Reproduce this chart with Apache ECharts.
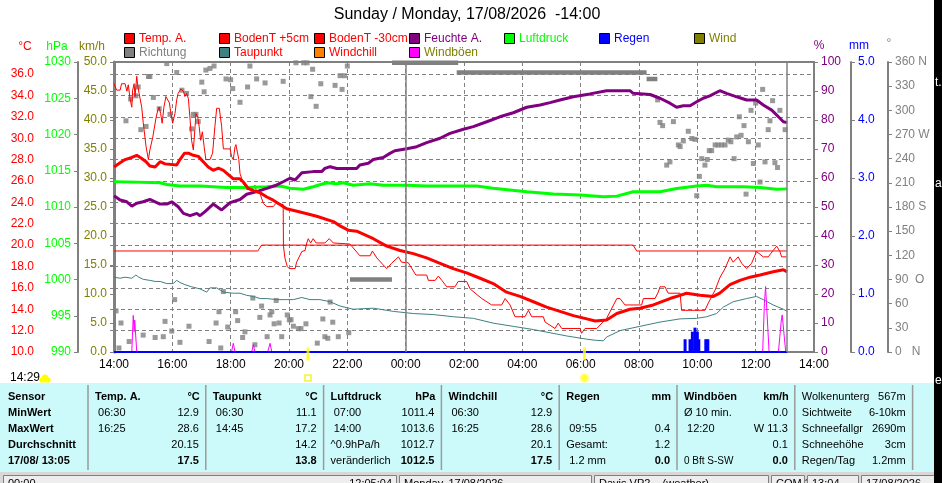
<!DOCTYPE html>
<html>
<head>
<meta charset="utf-8">
<title>Wetter 24h</title>
<script src="https://cdn.jsdelivr.net/npm/echarts@6/dist/echarts.min.js"></script>
<style>
  html, body { margin: 0; padding: 0; background: #fff; }
  #main { width: 942px; height: 483px; }
</style>
</head>
<body>
<div id="main"></div>
<script>
// Zeit in Stunden ab 14:00 (10 = 00:00, 24 = 14:00 am Folgetag)
const titleText = 'Sunday / Monday, 17/08/2026  -14:00';

// Temp. A. (°C)
const tempA = [[0.00,27.3],[0.21,27.7],[0.38,28.0],[0.61,28.2],[0.78,28.4],[0.95,28.1],[1.10,27.8],[1.23,27.4],[1.41,27.3],[1.58,27.8],[1.75,27.6],[2.15,27.5],[2.26,28.0],[2.42,28.6],[2.55,28.6],[2.72,28.4],[2.89,28.3],[3.06,27.8],[3.23,27.3],[3.40,27.0],[3.58,27.2],[3.75,27.0],[3.92,26.6],[4.09,26.2],[4.32,26.2],[4.43,25.9],[4.60,25.3],[4.78,25.1],[5.01,24.9],[5.24,24.5],[5.46,24.2],[5.69,23.8],[5.92,23.4],[6.38,23.1],[6.95,22.7],[7.52,22.2],[7.75,21.8],[8.03,21.4],[8.32,21.3],[8.89,20.6],[9.35,19.9],[9.81,19.5],[10.26,19.2],[10.72,18.8],[11.18,18.3],[11.63,17.8],[12.09,17.4],[12.55,16.9],[13.00,16.4],[13.46,15.6],[13.92,15.2],[14.38,14.7],[14.83,14.2],[15.29,13.8],[15.75,13.4],[16.21,13.1],[16.50,12.9],[16.89,13.0],[17.24,13.6],[17.69,14.0],[18.03,14.1],[18.49,14.4],[19.06,15.0],[19.41,15.3],[19.63,15.5],[20.09,15.3],[20.55,15.2],[20.77,15.5],[21.12,16.3],[21.46,16.7],[21.81,17.0],[22.15,17.2],[22.60,17.5],[22.95,17.7],[23.08,17.5]];

// BodenT +5cm (°C)
const bodenPlus5 = [[0.00,35.1],[0.09,34.5],[0.21,34.5],[0.26,35.1],[0.38,35.1],[0.44,34.4],[0.49,35.0],[0.55,33.7],[0.61,32.9],[0.64,34.5],[0.69,35.1],[0.72,33.9],[0.78,35.8],[0.81,35.0],[0.86,34.2],[0.95,32.9],[1.00,31.5],[1.10,29.2],[1.18,28.0],[1.23,28.9],[1.33,30.1],[1.44,31.9],[1.50,32.6],[1.55,32.9],[1.60,32.3],[1.65,31.4],[1.71,32.9],[1.78,33.9],[1.84,34.0],[1.90,33.3],[1.95,32.3],[2.01,31.4],[2.09,32.3],[2.15,33.6],[2.20,34.2],[2.29,34.6],[2.38,34.4],[2.43,33.9],[2.49,34.2],[2.55,33.7],[2.61,31.7],[2.66,29.8],[2.72,28.9],[2.78,31.1],[2.81,32.3],[2.87,32.0],[2.92,31.1],[2.97,29.8],[3.03,30.6],[3.09,29.2],[3.15,28.0],[3.29,28.0],[3.38,28.6],[3.46,31.1],[3.52,32.8],[3.61,32.8],[3.69,31.1],[3.75,29.0],[3.98,29.0],[4.03,28.3],[4.09,28.0],[4.15,29.2],[4.18,29.4],[4.23,28.7],[4.28,28.0],[4.32,26.7],[4.43,25.8],[4.55,25.2],[4.72,25.2],[4.83,25.6],[4.89,25.0],[5.01,24.8],[5.12,23.9],[5.24,23.6],[5.46,23.6],[5.55,23.9],[5.80,23.8],[5.81,19.9],[5.86,18.8],[5.94,18.0],[6.01,17.8],[6.21,17.8],[6.26,18.4],[6.44,19.4],[6.55,19.5],[6.61,20.2],[6.66,20.6],[6.74,20.2],[6.83,20.6],[6.93,20.2],[7.23,20.2],[7.38,20.6],[7.52,20.2],[8.09,20.1],[8.43,19.0],[8.78,19.0],[8.86,19.45],[9.01,18.8],[9.35,17.8],[9.52,18.3],[9.75,18.9],[9.86,18.4],[10.09,18.35],[10.35,17.2],[10.72,17.2],[10.78,16.7],[11.01,16.7],[11.12,17.1],[11.24,16.7],[11.41,16.1],[11.69,16.1],[11.80,16.6],[12.09,16.6],[12.21,15.9],[12.61,15.0],[12.95,14.4],[13.29,14.4],[13.41,15.0],[13.58,14.4],[13.75,13.3],[14.09,13.3],[14.21,13.9],[14.32,13.3],[14.72,13.3],[14.78,12.8],[15.12,12.2],[15.23,12.7],[15.35,12.2],[15.98,12.2],[16.03,11.75],[16.15,12.2],[16.55,12.2],[16.89,13.15],[17.24,15.0],[17.35,15.0],[17.52,14.4],[18.09,14.4],[18.15,15.0],[18.55,15.0],[18.66,15.6],[18.72,16.1],[18.89,16.1],[19.00,15.5],[19.41,15.5],[19.46,13.9],[20.26,13.9],[20.38,14.6],[20.61,15.8],[20.78,17.0],[20.95,17.8],[21.12,18.9],[21.23,18.4],[21.40,18.9],[21.52,18.3],[21.69,17.8],[21.86,18.3],[22.03,19.4],[22.26,18.9],[22.43,18.9],[22.60,19.5],[22.72,19.9],[22.83,19.4],[22.89,18.9],[23.06,18.9]];

// BodenT -30cm (°C)
const bodenMinus30 = [[0,19.45],[4.93,19.45],[5.06,20.0],[17.80,20.0],[17.92,19.45],[23.08,19.45]];

// Taupunkt (°C)
const taupunkt = [[0.00,17.0],[0.21,16.9],[0.38,17.0],[0.61,16.9],[0.75,17.2],[0.85,17.0],[1.00,16.8],[1.23,16.7],[1.41,16.6],[1.58,16.6],[1.81,16.4],[2.03,16.4],[2.15,16.7],[2.26,16.5],[2.43,16.3],[2.66,16.1],[2.95,15.9],[3.18,15.6],[3.29,16.0],[3.52,16.0],[3.75,15.6],[4.09,15.5],[4.32,15.5],[4.55,15.3],[4.78,15.2],[5.01,15.0],[5.24,15.0],[5.58,14.9],[5.92,14.9],[6.15,14.9],[6.44,15.1],[6.72,14.9],[7.06,14.9],[7.41,14.7],[7.75,14.3],[8.20,14.0],[8.89,14.1],[9.58,13.8],[10.26,13.6],[10.95,13.5],[11.63,13.3],[12.32,13.15],[13.00,12.7],[13.69,12.4],[14.38,12.1],[14.95,11.8],[15.52,11.5],[16.21,11.2],[16.50,11.1],[16.78,11.05],[16.89,11.4],[17.35,12.0],[18.03,12.4],[18.72,12.8],[19.41,13.1],[19.98,13.15],[20.32,13.3],[20.66,13.6],[20.89,14.2],[21.23,14.7],[21.69,15.0],[22.03,15.2],[22.26,14.9],[22.60,14.4],[22.95,14.0],[23.08,13.8]];

// Feuchte A. (%)
const feuchte = [[0.00,53.9],[0.21,52.4],[0.44,51.8],[0.61,50.3],[0.78,51.3],[1.00,51.8],[1.23,52.6],[1.41,51.8],[1.58,51.0],[1.81,51.0],[1.98,51.8],[2.20,50.1],[2.38,47.8],[2.61,47.0],[2.84,47.8],[2.95,47.0],[3.12,48.4],[3.40,51.0],[3.69,49.0],[3.98,51.5],[4.32,52.6],[4.55,54.4],[4.89,55.3],[5.24,56.4],[5.58,57.6],[5.80,58.7],[6.03,59.9],[6.21,59.3],[6.44,61.8],[6.83,62.2],[7.12,62.2],[7.23,63.3],[7.41,63.9],[7.64,63.3],[8.32,63.3],[8.43,64.5],[8.72,65.1],[8.89,66.4],[9.23,67.1],[9.46,68.5],[9.63,69.4],[10.04,70.1],[10.38,70.8],[10.72,72.2],[11.18,73.7],[11.52,75.4],[11.98,76.8],[12.32,77.7],[12.78,79.4],[13.23,81.1],[13.69,82.5],[14.15,84.4],[14.61,85.2],[14.95,86.0],[15.29,86.9],[15.75,88.0],[16.32,89.0],[16.89,90.1],[17.69,90.1],[17.80,89.2],[18.38,88.8],[18.72,87.5],[19.06,85.8],[19.29,84.4],[19.52,84.9],[19.75,84.9],[19.98,86.3],[20.20,87.5],[20.43,88.3],[20.77,90.1],[21.00,89.2],[21.35,88.0],[21.69,86.9],[22.03,86.9],[22.26,85.2],[22.55,83.4],[22.78,81.1],[22.95,79.4],[23.08,79.1]];

// Luftdruck (hPa)
const luftdruck = [[0.00,1013.5],[1.58,1013.35],[1.81,1013.1],[2.26,1012.9],[2.95,1012.9],[3.86,1012.7],[4.55,1012.7],[5.24,1012.8],[5.69,1012.9],[6.03,1012.6],[6.49,1012.45],[6.83,1012.8],[7.29,1013.35],[7.64,1013.2],[7.86,1013.35],[8.20,1013.0],[8.78,1013.2],[9.23,1013.0],[10.04,1013.0],[10.72,1012.9],[12.43,1012.9],[13.00,1012.6],[14.15,1012.1],[15.06,1011.8],[15.98,1011.65],[16.78,1011.4],[17.24,1011.5],[17.80,1012.1],[18.72,1012.1],[19.29,1012.55],[19.98,1012.9],[20.32,1013.0],[20.66,1012.8],[21.58,1012.8],[22.15,1012.7],[22.72,1012.45],[23.08,1012.5]];

// Richtung (°), Einzelwerte
const richtung = [[0.07,51],[0.17,5],[0.24,36],[0.41,287],[0.52,13],[0.57,314],[0.75,318],[0.83,329],[0.92,276],[1.00,21],[1.10,280],[1.18,342],[1.23,342],[1.35,316],[1.41,18],[1.55,302],[1.69,19],[1.75,38],[1.81,358],[1.92,295],[1.98,26],[2.08,65],[2.15,347],[2.26,12],[2.33,325],[2.49,321],[2.57,32],[2.66,277],[2.72,295],[2.81,295],[2.89,286],[3.01,335],[3.09,323],[3.15,350],[3.26,13],[3.29,352],[3.43,355],[3.50,36],[3.60,50],[3.66,5],[3.75,75],[3.84,339],[3.90,31],[4.00,338],[4.07,327],[4.17,50],[4.24,39],[4.32,310],[4.41,18],[4.49,25],[4.58,329],[4.66,355],[4.76,67],[4.83,9],[4.89,339],[5.00,43],[5.06,57],[5.18,334],[5.25,19],[5.35,46],[5.41,50],[5.49,35],[5.56,64],[5.66,36],[5.75,19],[5.80,336],[5.94,46],[6.01,40],[6.07,40],[6.15,32],[6.24,359],[6.32,29],[6.41,29],[6.50,359],[6.58,35],[6.62,359],[6.75,317],[6.81,351],[6.93,305],[6.97,11],[7.09,333],[7.16,41],[7.23,19],[7.33,17],[7.41,62],[7.50,37],[7.58,331],[7.69,19],[7.75,343],[7.82,326],[7.90,343],[8.00,355],[8.05,24],[18.64,313],[18.72,285],[18.81,281],[18.95,232],[19.06,236],[19.18,286],[19.35,257],[19.41,255],[19.52,262],[19.69,274],[19.81,265],[19.92,264],[19.98,194],[20.07,218],[20.15,240],[20.26,232],[20.34,239],[20.41,250],[20.49,250],[20.61,257],[20.71,257],[20.83,257],[20.95,257],[21.06,263],[21.15,261],[21.26,240],[21.35,267],[21.44,292],[21.50,269],[21.60,281],[21.67,196],[21.75,261],[21.84,300],[21.92,234],[22.00,309],[22.09,257],[22.15,211],[22.24,326],[22.32,236],[22.43,276],[22.49,287],[22.58,312],[22.66,235],[22.75,229],[22.83,300],[23.01,276]];
// Richtung (°), gleichbleibende Abschnitte bei Windstille: von, bis, Grad
const richtungRuns = [[8.09,9.53,90],[9.53,11.80,359],[11.75,18.26,347],[18.26,18.63,339]];

// Windböen / Wind (km/h)
const windboeen = [[0,0],[0.61,0],[0.66,6.3],[0.69,3.5],[0.71,5.5],[0.78,0],[4.03,0],[4.09,1.5],[4.15,0],[4.72,0],[4.78,1.3],[4.83,0],[5.27,0],[5.35,1.5],[5.41,0],[22.24,0],[22.30,8.4],[22.34,11.3],[22.46,0],[22.78,0],[22.88,5.5],[22.91,6.4],[23.03,0],[23.08,0]];
const windMittel = [[0,0],[23.08,0]];

// Regen (mm)
const regenBars = [[19.58,0.22],[19.75,0.22],[19.83,0.35],[19.92,0.42],[20.00,0.35],[20.05,0.22],[20.29,0.22],[20.36,0.22]];
const regenLine = [[0,0],[23.08,0]];

// Sonnenuntergang 20:39, Sonnenaufgang 06:08, Jetzt 13:05
const sunEvents = [6.65, 16.13];
const nowHour = 23.08;
const midnight = 10;

// Legende
const legendRow1 = [['Temp. A.','#ff0000','#ff0000'],['BodenT +5cm','#ff0000','#ff0000'],['BodenT -30cm','#ff0000','#ff0000'],['Feuchte A.','#800080','#800080'],['Luftdruck','#00ff00','#00ff00'],['Regen','#0000ff','#0000ff'],['Wind','#808000','#808000']];
const legendRow2 = [['Richtung','#808080','#808080'],['Taupunkt','#408080','#ff0000'],['Windchill','#ff8000','#ff0000'],['Windböen','#ff00ff','#808000']];

// Tabelle
const tabFirst = ['Sensor','MinWert','MaxWert','Durchschnitt','17/08/ 13:05'];
const tabCols = [
  ['Temp. A.','°C',[[' 06:30','12.9'],[' 16:25','28.6'],['','20.15'],['','17.5']]],
  ['Taupunkt','°C',[[' 06:30','11.1'],[' 14:45','17.2'],['','14.2'],['','13.8']]],
  ['Luftdruck','hPa',[[' 07:00','1011.4'],[' 14:00','1013.6'],['^0.9hPa/h','1012.7'],['veränderlich','1012.5']]],
  ['Windchill','°C',[[' 06:30','12.9'],[' 16:25','28.6'],['','20.1'],['','17.5']]],
  ['Regen','mm',[['',''],[' 09:55','0.4'],['Gesamt:','1.2'],[' 1.2 mm','0.0']]],
  ['Windböen','km/h',[['Ø 10 min.','0.0'],[' 12:20','W 11.3'],['','0.1'],['0 Bft S-SW','0.0']]]
];
const tabLast = [['Wolkenunterg','567m'],['Sichtweite','6-10km'],['Schneefallgr','2690m'],['Schneehöhe','3cm'],['Regen/Tag','1.2mm']];
const statusPanels = [[3,396,'00:00','12:05:04'],[399,591,'Monday, 17/08/2026',''],[594,768,'Davis VP2    (weather)',''],[771,804,'COM 3',''],[807,858,'13:04',''],[861,934,'17/08/2026','']];

const FONT = '"Liberation Sans", Arial, sans-serif';
const GRAY = '#808080';

function txt(x, y, text, color, font, align) {
  return { type: 'text', x: x, y: y, silent: true,
    style: { text: text, fill: color, font: font, textAlign: align || 'left', align: align || 'left',
             textVerticalAlign: 'middle', verticalAlign: 'middle' } };
}
function rect(x, y, w, h, fill, stroke, lw, z) {
  return { type: 'rect', silent: true, z: z || 0, shape: { x: x, y: y, width: w, height: h },
    style: { fill: fill, stroke: stroke || null, lineWidth: lw || 0 } };
}
function vline(x, y1, y2, color, w) {
  return { type: 'line', silent: true, shape: { x1: x, y1: y1, x2: x, y2: y2 }, style: { stroke: color, lineWidth: w || 1 } };
}

const g = [];
g.push(txt(467, 15, titleText, '#000', '16px ' + FONT, 'center'));
const legX = [124, 219, 314, 409, 504, 599, 694];
legendRow1.forEach(function (it, i) {
  g.push(rect(legX[i] + 0.5, 33.5, 10, 10, it[1], '#000', 1));
  g.push(txt(legX[i] + 15, 38.5, it[0], it[2], '12px ' + FONT));
});
legendRow2.forEach(function (it, i) {
  g.push(rect(legX[i] + 0.5, 47.5, 10, 10, it[1], '#000', 1));
  g.push(txt(legX[i] + 15, 52.5, it[0], it[2], '12px ' + FONT));
});
// Achsentitel
g.push(txt(25, 47, '°C', '#ff0000', '12px ' + FONT, 'center'));
g.push(txt(57, 47, 'hPa', '#00ff00', '12px ' + FONT, 'center'));
g.push(txt(92, 47, 'km/h', '#808000', '12px ' + FONT, 'center'));
g.push(txt(819, 46, '%', '#800080', '12px ' + FONT, 'center'));
g.push(txt(859, 46, 'mm', '#0000ff', '12px ' + FONT, 'center'));
g.push(txt(889, 44, '°', GRAY, '12px ' + FONT, 'center'));
// Uhrzeit unten links mit Wolkensymbol
g.push(txt(10, 378, '14:29', '#000', '12px ' + FONT));
g.push({ type: 'circle', silent: true, shape: { cx: 45, cy: 378, r: 3.5 }, style: { fill: '#ffff00' } });
g.push({ type: 'circle', silent: true, shape: { cx: 41.5, cy: 380, r: 2.3 }, style: { fill: '#ffff00' } });
g.push({ type: 'circle', silent: true, shape: { cx: 48.5, cy: 380, r: 2.3 }, style: { fill: '#ffff00' } });
g.push(rect(40, 380, 10, 2.5, '#ffff00'));

// Tabelle
g.push(rect(0, 383, 934, 89, '#ccfafa'));
const rowY = [397, 413, 429, 445, 461];
const colW = 117.8;
tabFirst.forEach(function (t, r) { g.push(txt(8, rowY[r], t, '#000', 'bold 11px ' + FONT)); });
tabCols.forEach(function (c, i) {
  const x0 = 88 + i * colW, x1 = x0 + colW;
  g.push(vline(x0, 385, 470, '#9a9a9a', 1.5));
  g.push(txt(x0 + 7, rowY[0], c[0], '#000', 'bold 11px ' + FONT));
  g.push(txt(x1 - 6, rowY[0], c[1], '#000', 'bold 11px ' + FONT, 'right'));
  c[2].forEach(function (rw, r) {
    const small = rw[0].indexOf('Bft') >= 0 ? '10px ' : '11px ';
    g.push(txt(x0 + 7, rowY[r + 1], rw[0], '#000', small + FONT));
    g.push(txt(x1 - 7, rowY[r + 1], rw[1], '#000', (r === 3 ? 'bold 11px ' : '11px ') + FONT, 'right'));
  });
});
const xl0 = 88 + 6 * colW, xl1 = xl0 + colW;
g.push(vline(xl0, 385, 470, '#9a9a9a', 1.5));
g.push(vline(xl1, 385, 470, '#9a9a9a', 1.5));
tabLast.forEach(function (rw, r) {
  g.push(txt(xl0 + 7, rowY[r], rw[0], '#000', '11px ' + FONT));
  g.push(txt(xl1 - 7, rowY[r], rw[1], '#000', '11px ' + FONT, 'right'));
});
// Statuszeile
g.push(rect(0, 472, 934, 11, '#d8d8d8'));
statusPanels.forEach(function (p) {
  g.push(rect(p[0] + 0.5, 475.5, p[1] - p[0], 12, '#eeeeee', GRAY, 1));
  g.push(txt(p[0] + 5, 484, p[2], '#000', '11px ' + FONT));
  if (p[3]) g.push(txt(p[1] - 4, 484, p[3], '#000', '11px ' + FONT, 'right'));
});
// dunkler Rand rechts
g.push(rect(934, 0, 8, 483, '#000', null, 0, 100));
g.push(Object.assign(txt(935, 83, 't.', '#fff', '12px ' + FONT), { z: 101 }));
g.push(Object.assign(txt(935, 184, 'a', '#fff', '12px ' + FONT), { z: 101 }));
g.push(Object.assign(txt(935, 381, 'e', '#fff', '12px ' + FONT), { z: 101 }));

function pad(n) { return (n < 10 ? '0' : '') + n; }
const dash = { color: GRAY, type: [4, 3], width: 1 };
const axLine = { show: true, lineStyle: { color: GRAY, width: 2 } };
const axTick = { show: true, length: 4, lineStyle: { color: GRAY } };
function yAx(pos, off, min, max, step, color, fmt, extra) {
  return Object.assign({
    type: 'value', position: pos, offset: off, min: min, max: max, interval: step,
    axisLine: axLine, axisTick: axTick, splitLine: { show: false },
    axisLabel: { color: color, fontSize: 12, fontFamily: FONT, margin: 7, formatter: fmt, showMaxLabel: true }
  }, extra || {});
}
function lineSeries(name, data, yIdx, color, width) {
  return { name: name, type: 'line', data: data, yAxisIndex: yIdx, symbol: 'none', showSymbol: false,
    silent: true, lineStyle: { color: color, width: width }, itemStyle: { color: color } };
}
const dirNames = { 0: 'N', 90: 'O', 180: 'S', 270: 'W', 360: 'N' };

const series = [];
series.push(lineSeries('Wind', windMittel, 2, '#808000', 1));
series[0].markLine = { silent: true, symbol: ['none', 'none'], label: { show: false },
  lineStyle: { color: GRAY, type: 'solid', width: 1.5 }, data: [{ xAxis: midnight }, { xAxis: nowHour }] };
series.push(lineSeries('Windböen', windboeen, 2, '#ff00ff', 1));
series.push({ name: 'Richtung', type: 'scatter', data: richtung, yAxisIndex: 5, symbol: 'rect', symbolSize: 5,
  silent: true, itemStyle: { color: GRAY } });
richtungRuns.forEach(function (r) {
  series.push(lineSeries('Richtung', [[r[0], r[2]], [r[1], r[2]]], 5, GRAY, 4.5));
});
series.push(lineSeries('Taupunkt', taupunkt, 0, '#408080', 1));
series.push(lineSeries('BodenT -30cm', bodenMinus30, 0, '#ff0000', 1));
series.push(lineSeries('BodenT +5cm', bodenPlus5, 0, '#ff0000', 1));
series.push(lineSeries('Luftdruck', luftdruck, 1, '#00ff00', 3));
series.push(lineSeries('Feuchte A.', feuchte, 3, '#800080', 3));
series.push(lineSeries('Temp. A.', tempA, 0, '#ff0000', 3));
series.push({ name: 'Regen', type: 'bar', data: regenBars, yAxisIndex: 4, barWidth: 3, silent: true,
  itemStyle: { color: '#0000ff' } });
series.push(lineSeries('Regen', regenLine, 4, '#0000ff', 2));
series.push({ type: 'scatter', yAxisIndex: 2, clip: false, silent: true, z: 5,
  data: sunEvents.map(function (h) { return [h, 0]; }),
  symbol: 'rect', symbolSize: [3, 13], symbolOffset: [0, 2], itemStyle: { color: '#ffff00' } });
series.push({ type: 'scatter', yAxisIndex: 2, clip: false, silent: true, z: 5, symbolOffset: [0, 26],
  data: [
    { value: [sunEvents[0], 0], symbol: 'rect', symbolSize: 6, itemStyle: { color: '#ffffff', borderColor: '#f0f000', borderWidth: 1.5 } },
    { value: [sunEvents[1], 0], symbol: 'circle', symbolSize: 8, itemStyle: { color: '#ffff00', borderColor: '#ffff99', borderWidth: 2 } }
  ] });

const chart = echarts.init(document.getElementById('main'), null, { renderer: 'canvas' });
chart.setOption({
  animation: false,
  backgroundColor: '#ffffff',
  grid: { left: 114, right: 128, top: 62, bottom: 131, show: true, borderColor: GRAY, borderWidth: 2 },
  xAxis: {
    type: 'value', min: 0, max: 24, interval: 2,
    axisLine: { show: false }, axisTick: { show: false },
    splitLine: { show: true, lineStyle: dash },
    axisLabel: { color: '#000', fontSize: 12, fontFamily: FONT, margin: 7,
      formatter: function (v) { return pad((14 + v) % 24) + ':00'; } }
  },
  yAxis: [
    yAx('left', 73, 10, 37.13, 2, '#ff0000', function (v) { return v.toFixed(1); },
      { splitLine: { show: true, lineStyle: dash } }),
    yAx('left', 36, 990, 1030, 5, '#00ff00', function (v) { return String(v); }),
    yAx('left', 0, 0, 50, 5, '#808000', function (v) { return v.toFixed(1); },
      { axisLine: { show: true, lineStyle: { color: GRAY, width: 3 } } }),
    yAx('right', 0, 0, 100, 10, '#800080', function (v) { return String(v); }),
    yAx('right', 37, 0, 5, 1, '#0000ff', function (v) { return v.toFixed(1); }),
    yAx('right', 74, 0, 360, 30, GRAY, function (v) {
      if (v === 0) return '0   N';
      if (v === 90) return '90  O';
      return dirNames[v] ? v + ' ' + dirNames[v] : String(v);
    })
  ],
  series: series,
  graphic: g
});
// °C-Achse: oberes Ende ohne Beschriftung
chart.setOption({ yAxis: [{ axisLabel: { showMaxLabel: false } }] });
</script>
</body>
</html>
